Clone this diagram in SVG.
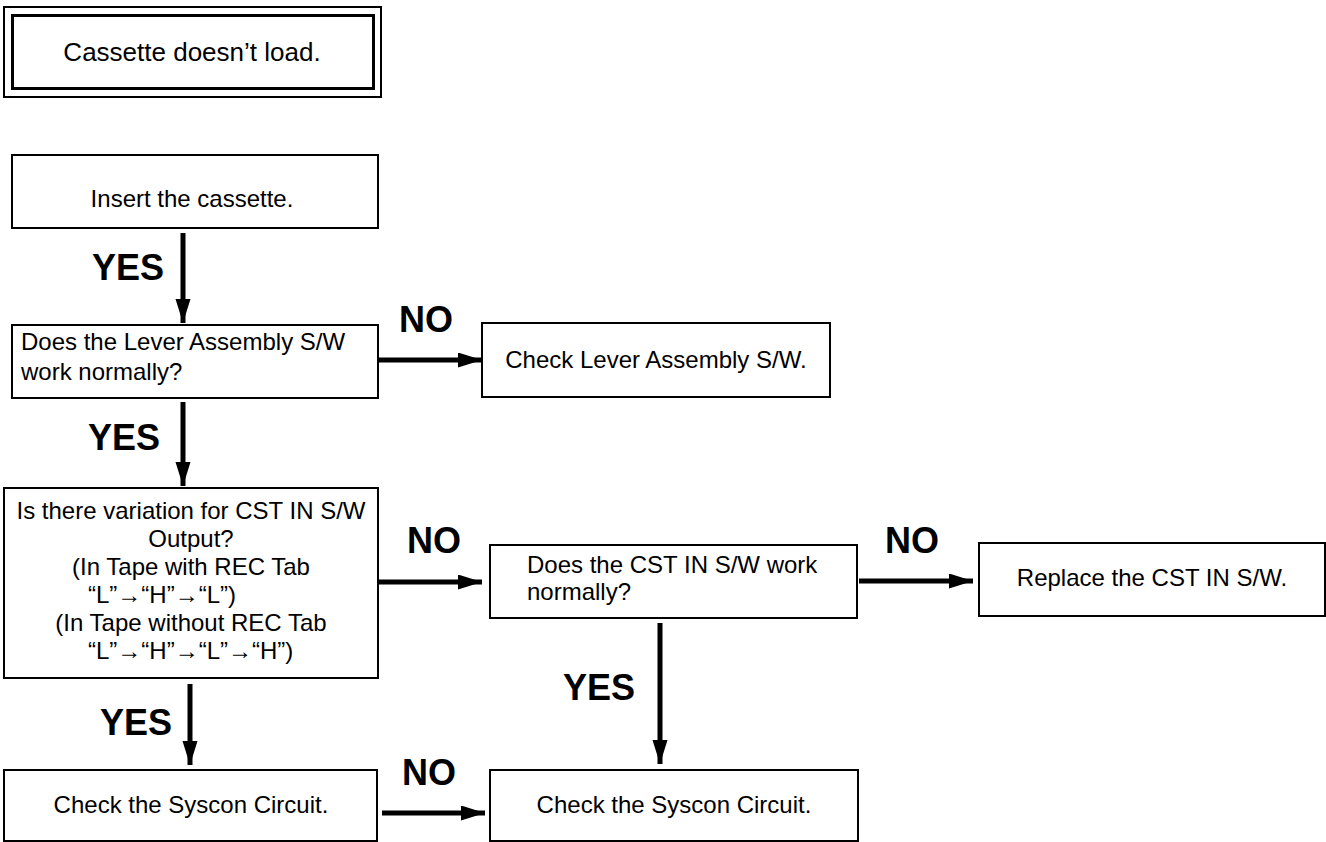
<svg xmlns="http://www.w3.org/2000/svg" width="1326" height="842" viewBox="0 0 1326 842">
<style>
  .box { fill: #fff; stroke: #000; stroke-width: 2; }
  .t { font-family: "Liberation Sans", Arial, sans-serif; font-size: 24px; fill: #000; }
  .c { text-anchor: middle; }
  .lbl { font-family: "Liberation Sans", Arial, sans-serif; font-size: 36px; font-weight: bold; fill: #000; }
  .con { stroke: #000; stroke-width: 5; fill: none; }
</style>
<defs>
  <marker id="ah" markerUnits="userSpaceOnUse" markerWidth="26" markerHeight="16" refX="24" refY="7.5" orient="auto">
    <path d="M0,0 L24,7.5 L0,15 Z" fill="#000"/>
  </marker>
</defs>
<rect width="1326" height="842" fill="#fff"/>

<g id="start">
  <rect x="4" y="7" width="377" height="90" fill="#fff" stroke="#000" stroke-width="2"/>
  <rect x="12.5" y="15.5" width="361" height="73" fill="none" stroke="#000" stroke-width="3"/>
  <text class="t c" x="192" y="61" style="font-size:26px">Cassette doesn’t load.</text>
</g>

<g id="insert">
  <rect class="box" x="12" y="155" width="366" height="73"/>
  <text class="t c" x="192" y="207">Insert the cassette.</text>
</g>

<g id="lever-q">
  <rect class="box" x="12" y="325" width="366" height="73"/>
  <text class="t" x="21" y="350">Does the Lever Assembly S/W</text>
  <text class="t" x="21" y="380">work normally?</text>
</g>

<g id="lever-check">
  <rect class="box" x="482" y="323" width="348" height="74"/>
  <text class="t c" x="656" y="368">Check Lever Assembly S/W.</text>
</g>

<g id="cst-q">
  <rect class="box" x="4" y="488" width="374" height="190"/>
  <text class="t c" x="191" y="519">Is there variation for CST IN S/W</text>
  <text class="t c" x="191" y="547">Output?</text>
  <text class="t c" x="191" y="575">(In Tape with REC Tab</text>
  <text class="t" x="88" y="603">“L”→“H”→“L”)</text>
  <text class="t c" x="191" y="631">(In Tape without REC Tab</text>
  <text class="t" x="88" y="659">“L”→“H”→“L”→“H”)</text>
</g>

<g id="cst-work">
  <rect class="box" x="490" y="545" width="367" height="73"/>
  <text class="t" x="527" y="573">Does the CST IN S/W work</text>
  <text class="t" x="527" y="600">normally?</text>
</g>

<g id="cst-replace">
  <rect class="box" x="979" y="543" width="346" height="73"/>
  <text class="t c" x="1152" y="586">Replace the CST IN S/W.</text>
</g>

<g id="syscon-left">
  <rect class="box" x="4" y="770" width="373" height="71"/>
  <text class="t c" x="191" y="813">Check the Syscon Circuit.</text>
</g>

<g id="syscon-right">
  <rect class="box" x="490" y="770" width="368" height="71"/>
  <text class="t c" x="674" y="813">Check the Syscon Circuit.</text>
</g>

<g id="connectors">
  <line class="con" x1="183" y1="233" x2="183" y2="323" marker-end="url(#ah)"/>
  <line class="con" x1="183" y1="402" x2="183" y2="486" marker-end="url(#ah)"/>
  <line class="con" x1="190" y1="684" x2="190" y2="765" marker-end="url(#ah)"/>
  <line class="con" x1="660" y1="623" x2="660" y2="764" marker-end="url(#ah)"/>
  <line class="con" x1="378" y1="360" x2="482" y2="360" marker-end="url(#ah)"/>
  <line class="con" x1="378" y1="582" x2="482" y2="582" marker-end="url(#ah)"/>
  <line class="con" x1="859" y1="581" x2="973" y2="581" marker-end="url(#ah)"/>
  <line class="con" x1="382" y1="813" x2="485" y2="813" marker-end="url(#ah)"/>
  <text class="lbl" x="92" y="280">YES</text>
  <text class="lbl" x="88" y="450">YES</text>
  <text class="lbl" x="100" y="735">YES</text>
  <text class="lbl" x="563" y="700">YES</text>
  <text class="lbl" x="399" y="332">NO</text>
  <text class="lbl" x="407" y="553">NO</text>
  <text class="lbl" x="885" y="553">NO</text>
  <text class="lbl" x="402" y="785">NO</text>
</g>
</svg>
